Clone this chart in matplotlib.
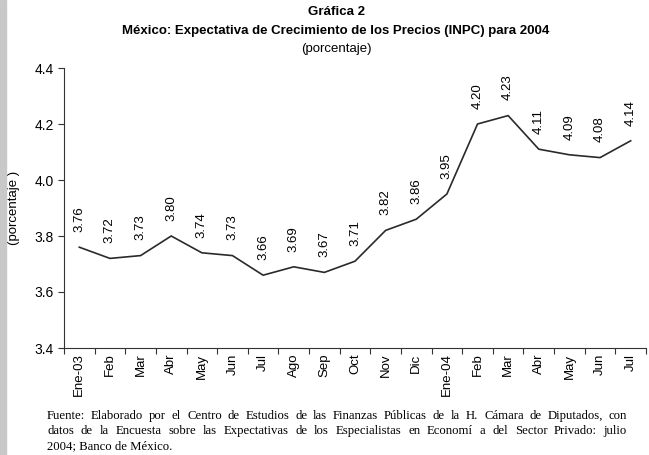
import matplotlib
matplotlib.use("Agg")
import matplotlib.pyplot as plt
from matplotlib.patches import Rectangle

meses = ["Ene-03", "Feb", "Mar", "Abr", "May", "Jun", "Jul", "Ago", "Sep", "Oct",
         "Nov", "Dic", "Ene-04", "Feb", "Mar", "Abr", "May", "Jun", "Jul"]
expectativa = [3.76, 3.72, 3.73, 3.80, 3.74, 3.73, 3.66, 3.69, 3.67, 3.71,
               3.82, 3.86, 3.95, 4.20, 4.23, 4.11, 4.09, 4.08, 4.14]
yticks = [3.4, 3.6, 3.8, 4.0, 4.2, 4.4]

fuente = ["Fuente: Elaborado por el Centro de Estudios de las Finanzas Públicas de la H. Cámara de Diputados, con",
          "datos de la Encuesta sobre las Expectativas de los Especialistas en Economí a del Sector Privado: julio",
          "2004; Banco de México."]

plt.rcParams['font.family'] = ['Liberation Sans', 'DejaVu Sans']

W, H = 649, 455
fig = plt.figure(figsize=(W / 100, H / 100), dpi=100)
fig.patches.append(Rectangle((0, 0), 6 / W, 1, transform=fig.transFigure,
                             color="#c8c8c8", zorder=0))

ax = fig.add_axes([64 / W, 1 - 348 / H, 582 / W, 280 / H])
x = list(range(len(meses)))
ax.plot(x, expectativa, color="#2a2a2a", linewidth=1.2)
for xi, v in zip(x, expectativa):
    ax.annotate(f"{v:.2f}", (xi, v), xytext=(0, 11), textcoords="offset points",
                rotation=90, ha="center", va="bottom", fontsize=9.5)

ax.set_xlim(-0.5, len(meses) - 0.5)
ax.set_ylim(3.4, 4.4)
ax.set_yticks(yticks)
ax.set_yticklabels([f"{t:.1f}" for t in yticks], fontsize=10)
ax.set_xticks([i - 0.5 for i in range(len(meses) + 1)])
ax.set_xticklabels([])
ax.set_xticks(x, minor=True)
ax.set_xticklabels(meses, minor=True, rotation=90, fontsize=9.5)
ax.tick_params(axis="x", which="minor", length=0, pad=4)
ax.tick_params(axis="x", which="major", length=4, direction="out", color="#333333")
ax.tick_params(axis="y", length=4, direction="out", color="#333333")
for s in ["top", "right"]:
    ax.spines[s].set_visible(False)
for s in ["left", "bottom"]:
    ax.spines[s].set_color("#333333")
ax.set_ylabel("(porcentaje )", fontsize=9.5, labelpad=10)

fig.text(336 / W, 1 - 12 / H, "Gráfica 2", ha="center", va="center",
         fontsize=9.5, fontweight="bold")
fig.text(336 / W, 1 - 31 / H,
         "México: Expectativa de Crecimiento de los Precios (INPC) para 2004",
         ha="center", va="center", fontsize=9.5, fontweight="bold")
fig.text(336 / W, 1 - 49 / H, "(porcentaje)", ha="center", va="center", fontsize=9.5)

# footer, justified by hand
x0, x1 = 47, 627
ys = [416, 431, 446]
renderer = fig.canvas.get_renderer()
for i, (linea, yy) in enumerate(zip(fuente, ys)):
    kw = dict(fontsize=9.2, family="Liberation Serif", va="center", ha="left")
    if i == len(fuente) - 1:
        fig.text(x0 / W, 1 - yy / H, linea, **kw)
        continue
    palabras = linea.split(" ")
    arts = [fig.text(0, 1 - yy / H, p, **kw) for p in palabras]
    anchos = [a.get_window_extent(renderer).width for a in arts]
    hueco = (x1 - x0 - sum(anchos)) / (len(palabras) - 1)
    pos = x0
    for a, w in zip(arts, anchos):
        a.set_x(pos / W)
        pos += w + hueco

fig.savefig("out.png", dpi=100)
